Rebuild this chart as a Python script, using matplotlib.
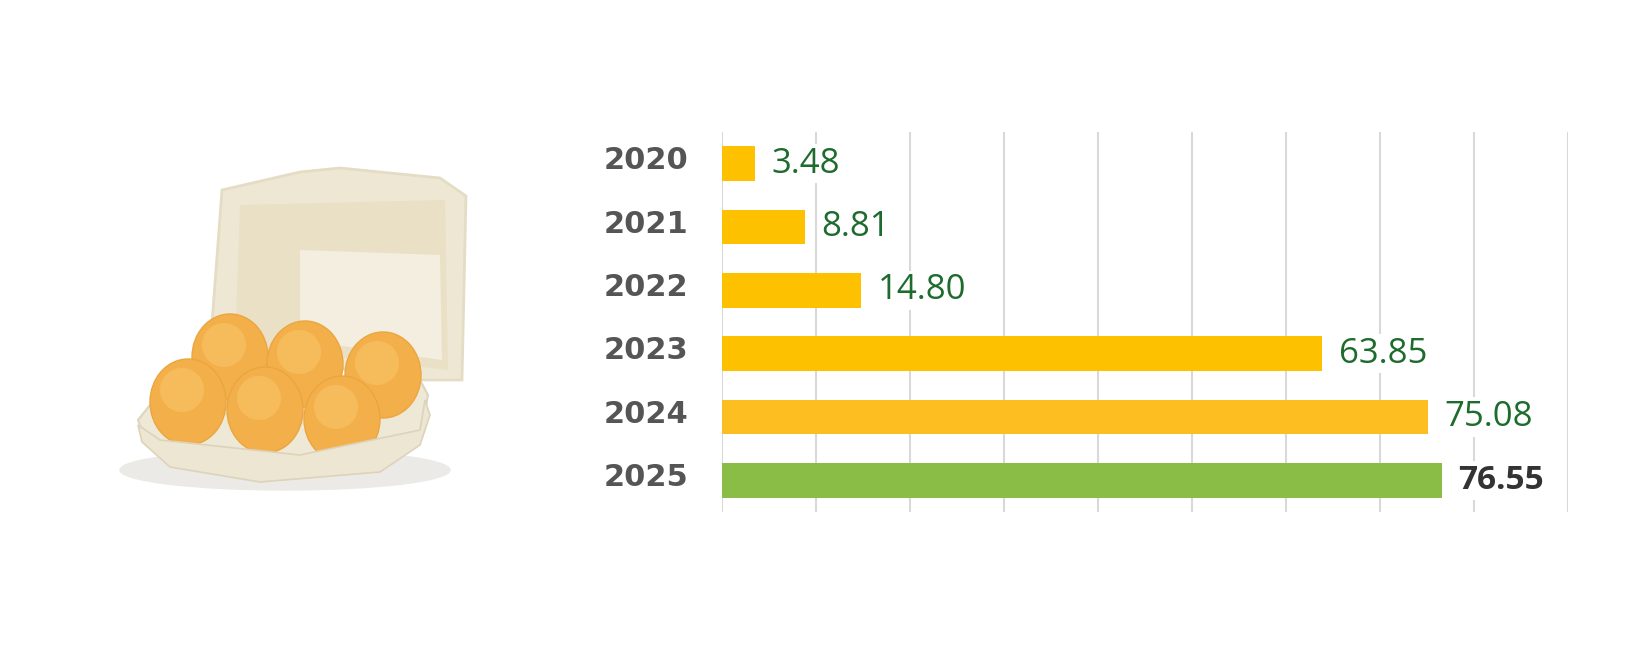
import matplotlib.pyplot as plt
from matplotlib.patches import Ellipse, Polygon
import numpy as np

plt.rcParams['font.family'] = ['Open Sans', 'DejaVu Sans']

# data
years = ['2020', '2021', '2022', '2023', '2024', '2025']
values = [3.48, 8.81, 14.80, 63.85, 75.08, 76.55]
bar_colors = ['#FDC100', '#FDC100', '#FDC100', '#FDC100', '#FDBE22', '#8ABD45']

fig = plt.figure(figsize=(16.4, 6.64), dpi=100)

# picture of the egg carton (drawn in pixel coords)
deco = fig.add_axes([0, 0, 1, 1])
deco.set_xlim(0, 1640)
deco.set_ylim(664, 0)
deco.axis('off')
deco.add_patch(Ellipse((285, 470), 330, 40, color='#ECEAE6', zorder=0))
# lid
deco.add_patch(Polygon([(222, 190), (300, 172), (340, 168), (440, 178), (466, 196),
                        (462, 380), (420, 380), (210, 350)],
                       closed=True, facecolor='#EEE7D3', edgecolor='#E4DCC4', lw=2, zorder=1))
deco.add_patch(Polygon([(240, 205), (445, 200), (448, 370), (235, 345)],
                       closed=True, facecolor='#E9E0C6', edgecolor='none', zorder=1))
deco.add_patch(Polygon([(300, 250), (440, 255), (442, 360), (300, 340)],
                       closed=True, facecolor='#F3EEDF', edgecolor='none', zorder=1))
# tray
deco.add_patch(Polygon([(138, 420), (150, 405), (420, 380), (428, 395), (420, 440),
                        (380, 470), (260, 480), (170, 465), (145, 440)],
                       closed=True, facecolor='#EEE8D6', edgecolor='#DDD5BE', lw=1.5, zorder=2))
# eggs, back row then front row
eggs = [(230, 357), (305, 364), (383, 375), (188, 402), (265, 410), (342, 419)]
for i, (ex, ey) in enumerate(eggs):
    deco.add_patch(Ellipse((ex, ey), 76, 86, facecolor='#F3B04A', edgecolor='#EBA53E',
                           lw=1, zorder=3 + i))
    deco.add_patch(Ellipse((ex - 6, ey - 12), 44, 44, facecolor='#F6BC5C', edgecolor='none',
                           zorder=3 + i))
deco.add_patch(Polygon([(138, 425), (160, 440), (300, 455), (420, 430), (425, 400), (430, 415),
                        (420, 445), (380, 472), (260, 482), (170, 467), (142, 442)],
                       closed=True, facecolor='#EDE6D2', edgecolor='#DCD3BA', lw=1.2, zorder=10))

# bar chart
ax = fig.add_axes([722 / 1640, 1 - 512 / 664, 846 / 1640, 380 / 664])
y = np.arange(len(years))
ax.barh(y, values, height=0.55, color=bar_colors, zorder=2)
ax.set_xlim(0, 90)
ax.set_ylim(len(years) - 0.5, -0.5)
ax.set_xticks(np.arange(0, 91, 10))
ax.grid(axis='x', color='#D9D9D9', lw=1.5, zorder=0)
ax.tick_params(axis='both', length=0, labelbottom=False, labelleft=False)
for s in ax.spines.values():
    s.set_visible(False)

# year labels
for i, yr in enumerate(years):
    ax.annotate(yr, (0, i), xytext=(-24, 2), textcoords='offset points',
                ha='right', va='center', fontsize=22, fontweight='bold',
                family='DejaVu Sans', color='#555555')

for i, v in enumerate(values):
    last = i == len(values) - 1
    ax.annotate(f'{v:.2f}', (v, i), xytext=(12, 0), textcoords='offset points',
                ha='left', va='center', fontsize=25 if not last else 24,
                fontweight='bold' if last else 'normal',
                color='#333333' if last else '#1E6B2E', zorder=3,
                bbox=dict(facecolor='white', edgecolor='none', pad=2))

fig.savefig('out.png', dpi=100, facecolor='white')
